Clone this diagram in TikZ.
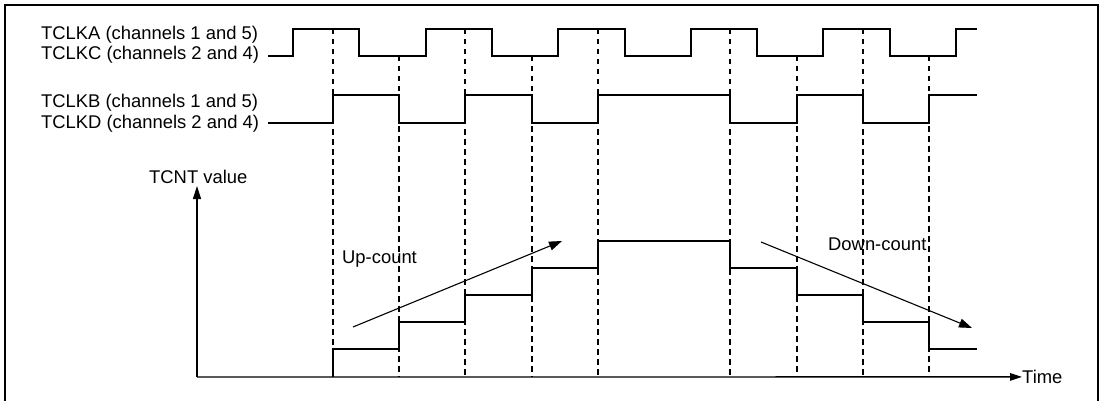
\documentclass[tikz,border=0pt]{standalone}
\usepackage{fontspec}
\setmainfont{Liberation Sans}
\usetikzlibrary{arrows.meta}
\tikzset{
  wave/.style={line width=2.6pt, line join=miter},
  guide/.style={line width=1.1pt, dash pattern=on 5.5pt off 4.5pt},
  axis/.style={line width=1.4pt},
  trend/.style={line width=1.1pt, -{Triangle[length=13pt,width=9pt]}},
  lbl/.style={font=\fontsize{18.4}{20}\selectfont, inner sep=0pt, anchor=base west},
}
\begin{document}
\begin{tikzpicture}[x=1pt,y=-1pt]
\clip (0,0) rectangle (1102,401);
\fill[white] (0,0) rectangle (1102,401);
\draw[line width=2pt] (5,5) rectangle (1098,420);

% labels
\node[lbl] (la) at (41,39.5) {TCLKA (channels 1 and 5)};
\node[lbl] (lc) at (41,59.5) {TCLKC (channels 2 and 4)};
\node[lbl] (lb) at (41,108) {TCLKB (channels 1 and 5)};
\node[lbl] (ld) at (41,128.5) {TCLKD (channels 2 and 4)};
\node[lbl] (tcnt) at (149,183) {TCNT value};
\node[lbl] (up) at (342,263.5) {Up-count};
\node[lbl] (down) at (828,250.5) {Down-count};

% dashed guides
\foreach \x/\t in {333/29,399/56,465/29,532/56,598/29,730/29,797/56,863/29,929/56}
  \draw[guide] (\x,\t) -- (\x,377);

% TCLKA / TCLKC
\draw[wave] (268,56) -- (293,56) -- (293,29) -- (359,29) -- (359,56) -- (426,56) -- (426,29) -- (492,29) -- (492,56) -- (558,56) -- (558,29) -- (625,29) -- (625,56) -- (691,56) -- (691,29) -- (757,29) -- (757,56) -- (823,56) -- (823,29) -- (890,29) -- (890,56) -- (956,56) -- (956,29) -- (977,29);

% TCLKB / TCLKD
\draw[wave] (268,123) -- (333,123) -- (333,95) -- (399,95) -- (399,123) -- (465,123) -- (465,95) -- (532,95) -- (532,123) -- (598,123) -- (598,95) -- (730,95) -- (730,123) -- (797,123) -- (797,95) -- (863,95) -- (863,123) -- (929,123) -- (929,95) -- (977,95);

% axes
\coordinate (o) at (197,377);
\coordinate (ytip) at (197,186);
\node[lbl, anchor=base west] (time) at (1022,383.5) {Time};
\draw[axis, -{Triangle[length=13pt,width=8pt]}] (o) -- (ytip);
\draw[axis, -{Triangle[length=12pt,width=7.5pt]}] (o) -- (time.west);

% TCNT staircase
\draw[wave] (333,377) -- (333,349) -- (399,349) -- (399,322) -- (465,322) -- (465,295) -- (532,295) -- (532,268) -- (598,268) -- (598,241) -- (730,241) -- (730,268) -- (797,268) -- (797,295) -- (863,295) -- (863,322) -- (929,322) -- (929,349) -- (977,349);

% trend arrows
\coordinate (us) at (353,327);
\coordinate (ue) at (562,241);
\coordinate (ds) at (761,242);
\coordinate (de) at (972,328);
\draw[trend] (us) -- (ue);
\draw[trend] (ds) -- (de);
\end{tikzpicture}
\end{document}
